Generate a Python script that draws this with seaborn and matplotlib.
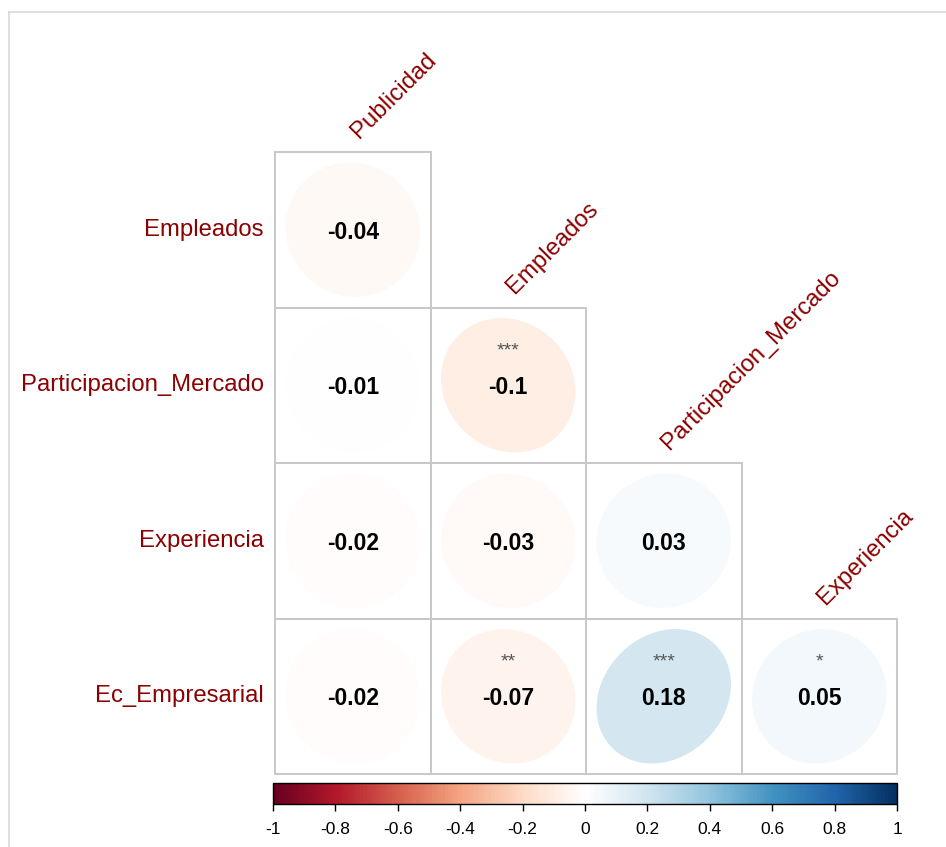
import numpy as np
import pandas as pd
import matplotlib
matplotlib.use("Agg")
import matplotlib.pyplot as plt
from matplotlib.colors import LinearSegmentedColormap, ListedColormap, Normalize
from matplotlib.cm import ScalarMappable
from matplotlib.patches import Polygon, Rectangle
from matplotlib.lines import Line2D
import seaborn as sns

# Variables and lower-triangle correlations (row variable vs column variable)
row_vars = ["Empleados", "Participacion_Mercado", "Experiencia", "Ec_Empresarial"]
col_vars = ["Publicidad", "Empleados", "Participacion_Mercado", "Experiencia"]

r_empleados = [-0.04]
r_participacion = [-0.01, -0.10]
r_experiencia = [-0.02, -0.03, 0.03]
r_ec_empresarial = [-0.02, -0.07, 0.18, 0.05]

sig_empleados = [""]
sig_participacion = ["", "***"]
sig_experiencia = ["", "", ""]
sig_ec_empresarial = ["", "**", "***", "*"]

cbar_ticks = [-1, -0.8, -0.6, -0.4, -0.2, 0, 0.2, 0.4, 0.6, 0.8, 1]

rows_r = [r_empleados, r_participacion, r_experiencia, r_ec_empresarial]
rows_sig = [sig_empleados, sig_participacion, sig_experiencia, sig_ec_empresarial]

n = len(row_vars)
mat = np.full((n, n), np.nan)
stars = [["" for _ in range(n)] for _ in range(n)]
for i, (vals, sg) in enumerate(zip(rows_r, rows_sig)):
    for j, (v, s) in enumerate(zip(vals, sg)):
        mat[i, j] = v
        stars[i][j] = s
corr = pd.DataFrame(mat, index=row_vars, columns=col_vars)
mask = np.isnan(mat)

# Red-blue diverging palette
rdbu = LinearSegmentedColormap.from_list(
    "rdbu",
    ["#67001F", "#B2182B", "#D6604D", "#F4A582", "#FDDBC7", "#FFFFFF",
     "#D1E5F0", "#92C5DE", "#4393C3", "#2166AC", "#053061"], N=200)
norm = Normalize(vmin=-1, vmax=1)

W, H = 946, 847
fig = plt.figure(figsize=(W / 100, H / 100), dpi=100)
fig.patch.set_facecolor("white")

# thin outer frame
fig.add_artist(Line2D([9 / W, 1.0], [1 - 12 / H, 1 - 12 / H], color="#d9d9d9", lw=1.2))
fig.add_artist(Line2D([9 / W, 9 / W], [0.0, 1 - 12 / H], color="#d9d9d9", lw=1.2))

ax = fig.add_axes([275 / W, 1 - 774 / H, 622 / W, 622 / H])
sns.heatmap(corr, mask=mask, cmap=ListedColormap(["white"]), cbar=False,
            linewidths=0, square=True, ax=ax,
            xticklabels=False, yticklabels=True)
ax.set_xlabel("")
ax.set_ylabel("")
ax.tick_params(axis="y", length=0, pad=8)
for lab in ax.get_yticklabels():
    lab.set_rotation(0)
    lab.set_fontsize(17.2)
    lab.set_color("#8B0000")
    lab.set_fontfamily("Liberation Sans")

label_font = dict(fontsize=17.2, color="#8B0000", family="Liberation Sans")
num_font = dict(fontsize=16.5, fontweight="bold", color="black", family="Liberation Sans")

scale = 0.432 / 0.5
k = np.linspace(0, 2 * np.pi, 200)
for i in range(n):
    for j in range(n):
        if mask[i, j]:
            continue
        # cell border
        ax.add_patch(Rectangle((j, i), 1, 1, facecolor="none", edgecolor="#c8c8c8",
                               lw=1.4, zorder=1.5, clip_on=False))
        r = mat[i, j]
        d = np.arccos(r)
        ex = np.cos(k + d / 2) / 2 * scale
        ey = np.cos(k - d / 2) / 2 * scale
        cx, cy = j + 0.5, i + 0.5
        pts = np.column_stack([cx + ex, cy - ey])
        ax.add_patch(Polygon(pts, closed=True, facecolor=rdbu(norm(r)),
                             edgecolor="none", zorder=2))
        txt = f"{r:.2f}"
        if txt.endswith("0"):
            txt = txt[:-1]
        ax.text(cx, cy + 0.015, txt, ha="center", va="center", zorder=3, **num_font)
        if stars[i][j]:
            ax.text(cx, cy - 0.22, stars[i][j], ha="center", va="center",
                    fontsize=14, color="#555555", family="Liberation Sans", zorder=3)

# diagonal column labels
for j, name in enumerate(col_vars):
    ax.text(j + 0.56, j - 0.06, name, rotation=45, rotation_mode="anchor",
            ha="left", va="bottom", clip_on=False, **label_font)

# colour key
cax = fig.add_axes([273 / W, 1 - 804 / H, 624 / W, 21 / H])
cb = fig.colorbar(ScalarMappable(norm=norm, cmap=rdbu), cax=cax, orientation="horizontal")
cb.set_ticks(cbar_ticks)
cb.set_ticklabels([f"{t:g}" for t in cbar_ticks])
cb.outline.set_linewidth(1.0)
cb.outline.set_edgecolor("black")
cax.tick_params(axis="x", length=5, width=1, direction="out", labelsize=12.5, pad=8)
for lab in cax.get_xticklabels():
    lab.set_fontfamily("Liberation Sans")

fig.savefig("out.png", dpi=100, facecolor="white")
